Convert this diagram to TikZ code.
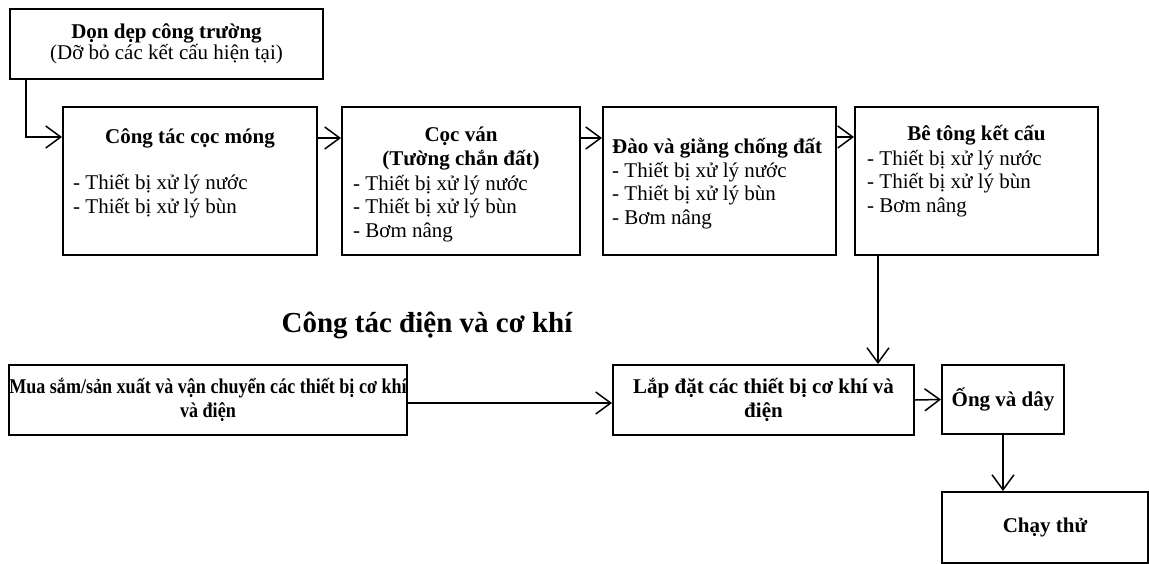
\documentclass[tikz,border=0pt]{standalone}
\usepackage{fontspec}
\setmainfont{Liberation Serif}
\newfontfamily\narrowserif[FakeStretch=0.86]{Liberation Serif}
\usetikzlibrary{positioning,arrows.meta,calc}

\newcommand{\boxfont}{\fontsize{21}{23.5}\selectfont}
\newcommand{\titlefont}{\fontsize{29}{32}\selectfont\bfseries}

\tikzset{
  stage/.style={draw,line width=2pt,anchor=north west,inner sep=0pt},
  boxtext/.style={font=\boxfont,inner sep=0pt,align=left},
  flow/.style={-{Straight Barb[length=15pt,width=22pt]},line width=1.5pt},
}

\begin{document}
\begin{tikzpicture}[x=1pt,y=-1pt]
\useasboundingbox (0,0) rectangle (1149,563);

% site clearing
\node[stage,minimum width=313pt,minimum height=70pt,align=center,font=\boxfont]
      (clear) at (9,8) {\textbf{Dọn dẹp công trường}\\[-2pt](Dỡ bỏ các kết cấu hiện tại)};

% civil works row (multi-line texts are set by their bottom edge)
\node[stage,minimum width=254pt,minimum height=148pt] (pile) at (62,106) {};
\node[boxtext,anchor=base,font=\boxfont\bfseries] (pilehead)
      at ($(pile.north)+(0,37)$) {Công tác cọc móng};
\node[boxtext,anchor=south west] (pilelist) at ($(pile.north west)+(11,112)$)
      {- Thiết bị xử lý nước\\- Thiết bị xử lý bùn};

\node[stage,minimum width=238pt,minimum height=148pt] (sheet) at (341,106) {};
\node[boxtext,anchor=south,align=center,font=\boxfont\bfseries] (sheethead)
      at ($(sheet.north)+(0,64)$) {Cọc ván\\(Tường chắn đất)};
\node[boxtext,anchor=south west] (sheetlist) at ($(sheet.north west)+(12,136)$)
      {- Thiết bị xử lý nước\\- Thiết bị xử lý bùn\\- Bơm nâng};

\node[stage,minimum width=233pt,minimum height=148pt] (dig) at (602,106) {};
\node[boxtext,anchor=south west] (diglist) at ($(dig.north west)+(10,123)$)
      {\textbf{Đào và giằng chống đất}\\- Thiết bị xử lý nước\\- Thiết bị xử lý bùn\\- Bơm nâng};

\node[stage,minimum width=243pt,minimum height=148pt] (concrete) at (854,106) {};
\node[boxtext,anchor=base,font=\boxfont\bfseries] (concretehead)
      at ($(concrete.north)+(0,34)$) {Bê tông kết cấu};
\node[boxtext,anchor=south west] (concretelist) at ($(concrete.north west)+(13,111)$)
      {- Thiết bị xử lý nước\\- Thiết bị xử lý bùn\\- Bơm nâng};

% electrical and mechanical row
\node[font=\titlefont,anchor=base,inner sep=0pt] (elec) at (427,332) {Công tác điện và cơ khí};

\node[stage,minimum width=398pt,minimum height=70pt,align=center,font=\boxfont\narrowserif\bfseries]
      (buy) at (8,364) {Mua sắm/sản xuất và vận chuyển các thiết bị cơ khí\\và điện};
\node[stage,minimum width=301pt,minimum height=70pt,align=center,font=\boxfont\bfseries]
      (install) at (612,364) {Lắp đặt các thiết bị cơ khí và\\điện};
\node[stage,minimum width=122pt,minimum height=69pt,font=\boxfont\bfseries]
      (pipe) at (941,364) {Ống và dây};
\node[stage,minimum width=206pt,minimum height=71pt,font=\boxfont\bfseries]
      (test) at (941,491) {Chạy thử};

% connectors
\coordinate (cleardrop) at ([xshift=17pt]clear.south west);
\draw[flow] (cleardrop) |- ([yshift=-31pt]pile.north west);
\draw[flow] ([yshift=-32pt]pile.north east) -- ([yshift=-32pt]sheet.north west);
\draw[flow] ([yshift=-32pt]sheet.north east) -- ([yshift=-32pt]dig.north west);
\draw[flow] ([yshift=-31pt]dig.north east) -- ([yshift=-31pt]concrete.north west);
\coordinate (concretedrop) at ([xshift=24pt]concrete.south west);
\draw[flow] (concretedrop) -- (concretedrop |- install.north);
\draw[flow] ([yshift=-3pt]buy.east) -- ([yshift=-3pt]install.west);
\draw[flow] (install.east) -- (pipe.west);
\draw[flow] (pipe.south) -- (pipe.south |- test.north);

\end{tikzpicture}
\end{document}
